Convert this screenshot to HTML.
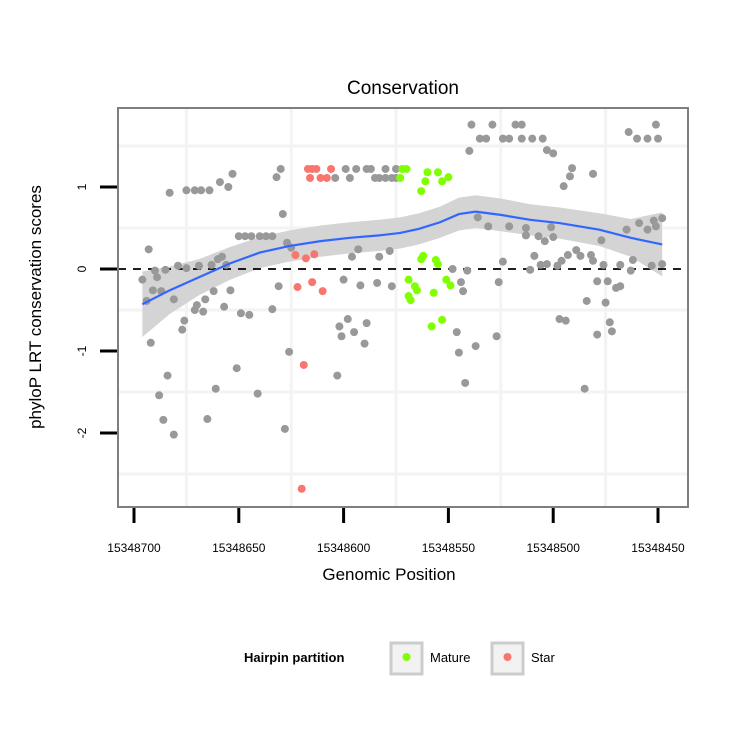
<!DOCTYPE html>
<html><head><meta charset="utf-8"><style>
html,body{margin:0;padding:0;background:#fff;}
svg text{font-family:"Liberation Sans",sans-serif;}
</style></head><body>
<svg id="chart" width="750" height="750" xmlns="http://www.w3.org/2000/svg">
<rect width="750" height="750" fill="#fff"/>
<text x="403" y="94" font-size="19" text-anchor="middle">Conservation</text>
<g id="grid"></g>
<g id="ribbon"></g>
<line x1="118" x2="688" y1="269" y2="269" stroke="#000" stroke-width="1.8" stroke-dasharray="8,7"/>
<g id="points"></g>
<g id="smooth"></g>
<rect x="118" y="108" width="570" height="399" fill="none" stroke="#7f7f7f" stroke-width="2"/>
<g id="axes"></g>
<text x="389" y="580" font-size="17" text-anchor="middle">Genomic Position</text>
<text transform="translate(41,307) rotate(-90)" font-size="17" text-anchor="middle">phyloP LRT conservation scores</text>
<g>
<text x="244" y="662" font-size="13" font-weight="bold">Hairpin partition</text>
<g>
<rect x="391" y="643" width="31" height="31" fill="#f2f2f2" stroke="#cccccc" stroke-width="3"/>
<circle cx="406.5" cy="657" r="4" fill="#80ff00"/>
<text x="430" y="662" font-size="13">Mature</text></g>
<g>
<rect x="492" y="643" width="31" height="31" fill="#f2f2f2" stroke="#cccccc" stroke-width="3"/>
<circle cx="507.5" cy="657" r="4" fill="#f8766d"/>
<text x="531" y="662" font-size="13">Star</text></g>
</g>
</svg>
<script>
const BASE = 15348700;
const xTicks = [15348700,15348650,15348600,15348550,15348500,15348450];
const yTicks = [-2,-1,0,1];
const grayOffsets = [7,4,10,11,15,9,13,6,19,21,25,31,37,40,42,44,38,46,34,30,29,33,43,51,55,66,69,24,23,8,16,12,14,19,35,39,49,59,72,74,17,25,29,32,36,41,45,47,68,70,71,50,53,56,60,63,66,73,75,100,108,116,123,104,107,117,122,98,102,99,105,111,110,97,101,106,111,113,120,125,96,103,115,117,120,123,125,161,171,182,185,165,168,176,179,185,190,195,160,197,200,209,208,205,219,236,249,240,245,250,164,169,179,187,187,193,196,200,199,223,235,241,245,249,252,248,152,159,156,157,174,176,189,191,194,197,202,204,207,211,213,218,219,224,221,226,230,232,237,238,247,252,216,225,232,154,155,163,173,158,203,206,221,227,228,215];
const grayScores = [0.24,-0.13,-0.02,-0.10,-0.01,-0.26,-0.27,-0.39,-0.37,0.04,0.01,0.04,0.05,0.12,0.15,0.05,-0.27,-0.26,-0.37,-0.44,-0.50,-0.52,-0.46,-0.54,-0.56,-0.49,-0.21,-0.63,-0.74,-0.90,-1.30,-1.54,-1.84,-2.02,-1.83,-1.46,-1.21,-1.52,-1.95,-1.01,0.93,0.96,0.96,0.96,0.96,1.06,1.00,1.16,1.12,1.22,0.67,0.40,0.40,0.40,0.40,0.40,0.40,0.32,0.26,-0.13,-0.20,-0.17,-0.21,0.15,0.24,0.15,0.22,-0.70,-0.61,-0.82,-0.77,-0.66,-0.91,-1.30,1.22,1.22,1.22,1.22,1.22,1.22,1.11,1.11,1.11,1.11,1.11,1.11,1.11,1.76,1.76,1.76,1.76,1.59,1.59,1.59,1.59,1.59,1.59,1.59,1.44,1.45,1.41,1.23,1.13,1.01,1.16,1.67,1.76,1.59,1.59,1.59,0.63,0.52,0.52,0.50,0.41,0.40,0.34,0.39,0.51,0.35,0.48,0.56,0.48,0.52,0.62,0.59,0.00,-0.02,-0.16,-0.27,-0.16,0.09,-0.01,0.16,0.05,0.06,0.04,0.10,0.17,0.23,0.16,0.17,0.10,0.05,-0.15,-0.15,-0.23,0.05,-0.02,0.11,0.04,0.06,-0.39,-0.41,-0.21,-0.77,-1.02,-0.94,-0.82,-1.39,-0.61,-0.63,-0.80,-0.65,-0.76,-1.46];
const starOffsets = [83,87,94,84,89,92,85,77,82,86,78,85,90,81,80];
const starScores = [1.22,1.22,1.22,1.11,1.11,1.11,1.22,0.17,0.13,0.18,-0.22,-0.16,-0.27,-1.17,-2.68];
const matureOffsets = [128,130,127,140,139,137,145,147,150,137,138,144,145,131,134,132,131,149,151,143,142,147,135];
const matureScores = [1.22,1.22,1.11,1.18,1.07,0.95,1.18,1.07,1.12,0.12,0.16,0.11,0.06,-0.13,-0.21,-0.38,-0.33,-0.13,-0.20,-0.29,-0.70,-0.62,-0.26];
const smoothOffsets = [4,17,31,46,60,74,89,103,117,127,136,146,155,163,175,189,203,222,237,252];
const smoothFit = [-0.43,-0.26,-0.10,0.07,0.20,0.28,0.34,0.38,0.41,0.44,0.49,0.57,0.67,0.70,0.66,0.60,0.56,0.48,0.38,0.30];
const smoothSE = [0.40,0.29,0.22,0.20,0.19,0.19,0.19,0.19,0.19,0.19,0.19,0.19,0.20,0.20,0.20,0.19,0.19,0.20,0.23,0.39];

const NS='http://www.w3.org/2000/svg';
function xs(pos){ return 134 + (15348700 - pos) * (524/250); }
function ys(v){ return 269 - v * 82; }
function mk(tag, attrs, parent){ const e=document.createElementNS(NS,tag); for(const k in attrs) e.setAttribute(k,attrs[k]); parent.appendChild(e); return e; }

const grid=document.getElementById('grid');
for(let i=0;i<xTicks.length-1;i++){
  const x=(xs(xTicks[i])+xs(xTicks[i+1]))/2;
  const l=mk('line',{x1:x,x2:x,y1:109,y2:506,stroke:'#f3f3f3','stroke-width':3},grid);
  
  
}
const yMinor=[-2.5,-1.5,-0.5,0.5,1.5];
yMinor.forEach(v=>{
  const l=mk('line',{x1:119,x2:687,y1:ys(v),y2:ys(v),stroke:'#f3f3f3','stroke-width':3},grid);
  
  
});

const rib=document.getElementById('ribbon');
let d='';
smoothOffsets.forEach((o,i)=>{ d+=(i?'L':'M')+xs(BASE-o)+','+ys(smoothFit[i]+smoothSE[i]); });
for(let i=smoothOffsets.length-1;i>=0;i--){ d+='L'+xs(BASE-smoothOffsets[i])+','+ys(smoothFit[i]-smoothSE[i]); }
const rp=mk('path',{d:d+'Z',fill:'#d4d4d4'},rib);



const pts=document.getElementById('points');
function drawPts(offs,vals,col,name){
  offs.forEach((o,i)=>{
    const c=mk('circle',{cx:xs(BASE-o),cy:ys(vals[i]),r:4,fill:col},pts);
    
    
  });
}
drawPts(grayOffsets,grayScores,'#999999','point-other');
drawPts(starOffsets,starScores,'#f8766d','point-star');
drawPts(matureOffsets,matureScores,'#80ff00','point-mature');

const sm=document.getElementById('smooth');
let ld='';
smoothOffsets.forEach((o,i)=>{ ld+=(i?'L':'M')+xs(BASE-o)+','+ys(smoothFit[i]); });
const sl=mk('path',{d:ld,fill:'none',stroke:'#3366ff','stroke-width':2.2},sm);



const ax=document.getElementById('axes');
xTicks.forEach(t=>{
  const x=xs(t);
  const l=mk('line',{x1:x,x2:x,y1:508,y2:523,stroke:'#000','stroke-width':3},ax);
  
  
  const tx=mk('text',{x:x,y:552,'font-size':12,'text-anchor':'middle'},ax);
  tx.textContent=String(t);
  
  
});
yTicks.forEach(v=>{
  const y=ys(v);
  const l=mk('line',{x1:100,x2:117,y1:y,y2:y,stroke:'#000','stroke-width':3},ax);
  
  
  const tx=mk('text',{transform:'translate(86,'+y+') rotate(-90)','font-size':12,'text-anchor':'middle'},ax);
  tx.textContent=String(v);
  
  
});
</script>
</body></html>
